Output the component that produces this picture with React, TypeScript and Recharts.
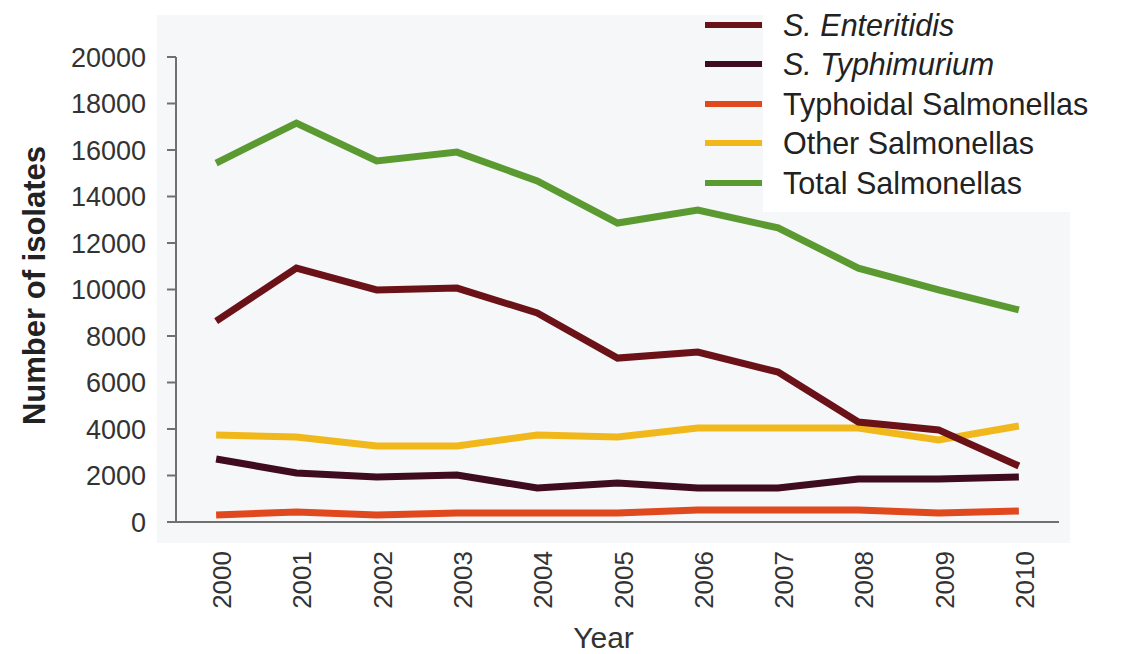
import { LineChart, Line, XAxis, YAxis, Legend } from 'recharts';

const years = [2000, 2001, 2002, 2003, 2004, 2005, 2006, 2007, 2008, 2009, 2010];
const enteritidis = [8640, 10920, 9980, 10060, 8990, 7050, 7310, 6450, 4300, 3960, 2410];
const typhimurium = [2710, 2110, 1940, 2020, 1460, 1680, 1460, 1460, 1850, 1850, 1940];
const typhoidal = [300, 430, 300, 390, 390, 390, 520, 520, 520, 390, 470];
const other = [3740, 3660, 3270, 3270, 3740, 3660, 4040, 4040, 4040, 3530, 4130];
const total = [15440, 17160, 15530, 15910, 14670, 12860, 13420, 12650, 10920, 9980, 9120];

const yTicks = [0, 2000, 4000, 6000, 8000, 10000, 12000, 14000, 16000, 18000, 20000];
const bandTicks = [1999.5, 2000.5, 2001.5, 2002.5, 2003.5, 2004.5, 2005.5, 2006.5, 2007.5, 2008.5, 2009.5, 2010.5];
const legendOrder = ['S. Enteritidis', 'S. Typhimurium', 'Typhoidal Salmonellas', 'Other Salmonellas', 'Total Salmonellas'];
const italicNames = ['S. Enteritidis', 'S. Typhimurium'];

const data = years.map((year, i) => ({
  year,
  enteritidis: enteritidis[i],
  typhimurium: typhimurium[i],
  typhoidal: typhoidal[i],
  other: other[i],
  total: total[i],
}));

const FONT = 'Liberation Sans, Arial, Helvetica, sans-serif';
const AXIS = '#707070';

const YearTick = ({ x, y, payload }: any) => (
  <text
    x={x + 6}
    y={y}
    transform={`rotate(-90, ${x + 6}, ${y})`}
    textAnchor="end"
    dominantBaseline="central"
    fontSize={26}
    fontFamily={FONT}
    fill="#333"
  >
    {payload.value}
  </text>
);

const YLabel = ({ viewBox }: any) => {
  const cx = viewBox.x + 34;
  const cy = viewBox.y + viewBox.height / 2 - 4;
  return (
    <text
      x={cx}
      y={cy}
      transform={`rotate(-90, ${cx}, ${cy})`}
      textAnchor="middle"
      dominantBaseline="central"
      fontSize={31}
      fontWeight="bold"
      fontFamily={FONT}
      fill="#222"
    >
      Number of isolates
    </text>
  );
};

const XLabel = ({ viewBox }: any) => (
  <text
    x={viewBox.x + viewBox.width / 2 - 14}
    y={viewBox.y + viewBox.height - 6}
    textAnchor="middle"
    fontSize={30}
    fontFamily={FONT}
    fill="#333"
  >
    Year
  </text>
);

const LegendBox = ({ payload }: any) => {
  const items = [...(payload || [])].sort(
    (a: any, b: any) => legendOrder.indexOf(a.value) - legendOrder.indexOf(b.value)
  );
  return (
    <div style={{ position: 'relative', width: 400, fontFamily: FONT }}>
      <div style={{ position: 'absolute', left: 58, top: -5, width: 307, height: 212, background: '#fff' }} />
      {items.map((p: any) => (
        <div key={p.value} style={{ position: 'relative', display: 'flex', alignItems: 'center', height: 39.5 }}>
          <span style={{ display: 'inline-block', width: 57, height: 6, background: p.color, marginRight: 21 }} />
          <span
            style={{
              fontSize: 30.5,
              color: '#222',
              whiteSpace: 'nowrap',
              fontStyle: italicNames.includes(p.value) ? 'italic' : 'normal',
              lineHeight: '30px',
            }}
          >
            {p.value}
          </span>
        </div>
      ))}
    </div>
  );
};

export default function App() {
  return (
    <div style={{ position: 'absolute', left: 0, top: 0, width: 1122, height: 654, background: '#fff' }}>
      <div style={{ position: 'absolute', left: 157, top: 15, width: 913, height: 528, background: '#f6f7f9' }} />
      <LineChart
        width={1122}
        height={654}
        data={data}
        margin={{ top: 57, right: 63, bottom: 0, left: 0 }}
        style={{ position: 'absolute', left: 0, top: 0 }}
      >
        <XAxis
          dataKey="year"
          type="number"
          domain={[1999.5, 2010.5]}
          ticks={bandTicks}
          interval={0}
          height={1}
          tick={false}
          tickSize={8}
          tickLine={{ stroke: AXIS, strokeWidth: 2 }}
          axisLine={{ stroke: AXIS, strokeWidth: 2 }}
        />
        <XAxis
          xAxisId="labels"
          dataKey="year"
          type="number"
          domain={[1999.5, 2010.5]}
          ticks={years}
          interval={0}
          height={131}
          axisLine={false}
          tickLine={false}
          tickSize={0}
          tickMargin={28}
          tick={<YearTick />}
          label={<XLabel />}
        />
        <YAxis
          type="number"
          domain={[0, 20000]}
          ticks={yTicks}
          interval={0}
          width={176}
          tickSize={9}
          tickMargin={21}
          tick={{ fontSize: 27, fontFamily: FONT, fill: '#333' }}
          tickLine={{ stroke: AXIS, strokeWidth: 2 }}
          axisLine={{ stroke: AXIS, strokeWidth: 2 }}
          label={<YLabel />}
        />
        <Legend
          layout="vertical"
          align="center"
          verticalAlign="middle"
          content={<LegendBox />}
          wrapperStyle={{ top: 5, left: 705, width: 400 }}
        />
        <Line type="linear" dataKey="total" name="Total Salmonellas" stroke="#5b9a30" strokeWidth={7} dot={false} isAnimationActive={false} />
        <Line type="linear" dataKey="other" name="Other Salmonellas" stroke="#f1b81c" strokeWidth={7} dot={false} isAnimationActive={false} />
        <Line type="linear" dataKey="typhoidal" name="Typhoidal Salmonellas" stroke="#e0481e" strokeWidth={7} dot={false} isAnimationActive={false} />
        <Line type="linear" dataKey="typhimurium" name="S. Typhimurium" stroke="#3e0b1f" strokeWidth={7} dot={false} isAnimationActive={false} />
        <Line type="linear" dataKey="enteritidis" name="S. Enteritidis" stroke="#6a1218" strokeWidth={7} dot={false} isAnimationActive={false} />
      </LineChart>
    </div>
  );
}
